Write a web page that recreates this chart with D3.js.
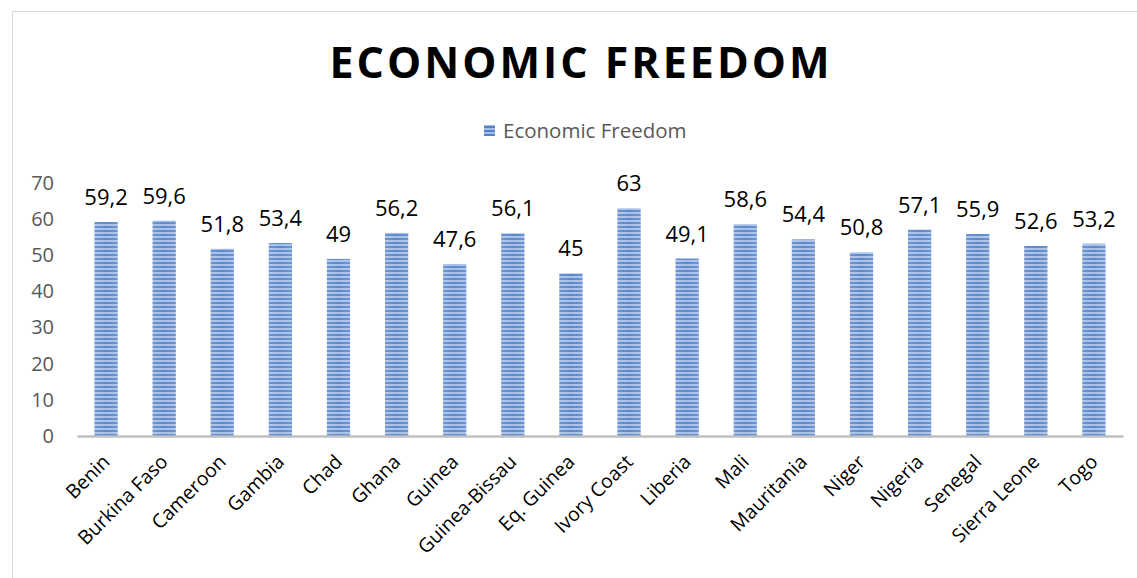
<!DOCTYPE html>
<html>
<head>
<meta charset="utf-8">
<script src="https://cdn.jsdelivr.net/npm/d3@7"></script>
<style>
  body { margin: 0; background: #fff; }
  svg { display: block; }
</style>
</head>
<body>
<svg id="chart" width="1137" height="578"></svg>
<script>
const countries = ["Benin", "Burkina Faso", "Cameroon", "Gambia", "Chad", "Ghana", "Guinea",
  "Guinea-Bissau", "Eq. Guinea", "Ivory Coast", "Liberia", "Mali", "Mauritania", "Niger",
  "Nigeria", "Senegal", "Sierra Leone", "Togo"];
const freedom = [59.2, 59.6, 51.8, 53.4, 49, 56.2, 47.6, 56.1, 45, 63, 49.1, 58.6, 54.4, 50.8,
  57.1, 55.9, 52.6, 53.2];
const yTicks = [0, 10, 20, 30, 40, 50, 60, 70];
const seriesName = "Economic Freedom";
const title = "ECONOMIC FREEDOM";

const font = "'Open Sans', 'Noto Sans', sans-serif";
const svg = d3.select("#chart");

// outer chart border
svg.append("rect")
  .attr("x", 12.5).attr("y", 11.5)
  .attr("width", 1200).attr("height", 700)
  .attr("fill", "none").attr("stroke", "#d9d9d9");

// striped fill for the bars
const defs = svg.append("defs");
const pat = defs.append("pattern")
  .attr("id", "stripes")
  .attr("patternUnits", "userSpaceOnUse")
  .attr("width", 10).attr("height", 4);
pat.append("rect").attr("width", 10).attr("height", 4).attr("fill", "#a2bde6");
pat.append("rect").attr("y", 2).attr("width", 10).attr("height", 2).attr("fill", "#5482c9");

const shine = defs.append("linearGradient").attr("id", "shine");
shine.append("stop").attr("offset", "0%").attr("stop-color", "#fff").attr("stop-opacity", 0.15);
shine.append("stop").attr("offset", "50%").attr("stop-color", "#fff").attr("stop-opacity", 0.05);
shine.append("stop").attr("offset", "100%").attr("stop-color", "#fff").attr("stop-opacity", 0.15);

const x = d3.scaleBand()
  .domain(countries)
  .range([77, 1123])
  .paddingInner(0.6)
  .paddingOuter(0.3);

const y = d3.scaleLinear()
  .domain([0, 70])
  .range([436, 183]);

// title
svg.append("text")
  .attr("x", 581).attr("y", 78)
  .attr("text-anchor", "middle")
  .attr("font-family", font)
  .attr("font-weight", "bold")
  .attr("font-size", 43)
  .attr("letter-spacing", 3)
  .attr("fill", "#000")
  .text(title);

// legend
svg.append("rect")
  .attr("x", 484).attr("y", 125)
  .attr("width", 11).attr("height", 11)
  .attr("fill", "url(#stripes)");
svg.append("text")
  .attr("x", 503).attr("y", 138)
  .attr("font-family", font)
  .attr("font-size", 20.5)
  .attr("fill", "#595959")
  .text(seriesName);

// y axis labels
const yAxis = svg.append("g")
  .attr("transform", "translate(54,0)")
  .call(d3.axisLeft(y).tickValues(yTicks).tickSize(0).tickPadding(0));
yAxis.select(".domain").remove();
yAxis.selectAll("text")
  .attr("font-family", font)
  .attr("font-size", 20)
  .attr("fill", "#595959");

// bars
const bars = svg.append("g");
bars.selectAll("rect.bar")
  .data(freedom)
  .join("rect")
  .attr("class", "bar")
  .attr("x", (d, i) => x(countries[i]))
  .attr("y", d => y(d))
  .attr("width", x.bandwidth())
  .attr("height", d => y(0) - y(d))
  .attr("fill", "url(#stripes)");
bars.selectAll("rect.shine")
  .data(freedom)
  .join("rect")
  .attr("class", "shine")
  .attr("x", (d, i) => x(countries[i]))
  .attr("y", d => y(d))
  .attr("width", x.bandwidth())
  .attr("height", d => y(0) - y(d))
  .attr("fill", "url(#shine)");

// value labels
svg.append("g").selectAll("text")
  .data(freedom)
  .join("text")
  .attr("x", (d, i) => x(countries[i]) + x.bandwidth() / 2)
  .attr("y", d => y(d) - 17)
  .attr("text-anchor", "middle")
  .attr("font-family", font)
  .attr("font-size", 22)
  .attr("fill", "#000")
  .text(d => String(d).replace(".", ","));

// x axis
const xAxis = svg.append("g")
  .attr("transform", `translate(0,${y(0)})`)
  .call(d3.axisBottom(x).tickSize(0).tickPadding(0));
xAxis.select(".domain")
  .attr("stroke", "#bfbfbf")
  .attr("stroke-width", 2.5);
xAxis.selectAll(".tick text")
  .attr("font-family", font)
  .attr("font-size", 19.5)
  .attr("fill", "#000")
  .attr("text-anchor", "end")
  .attr("dy", 0)
  .attr("transform", "translate(5,27) rotate(-45)");
</script>
</body>
</html>
